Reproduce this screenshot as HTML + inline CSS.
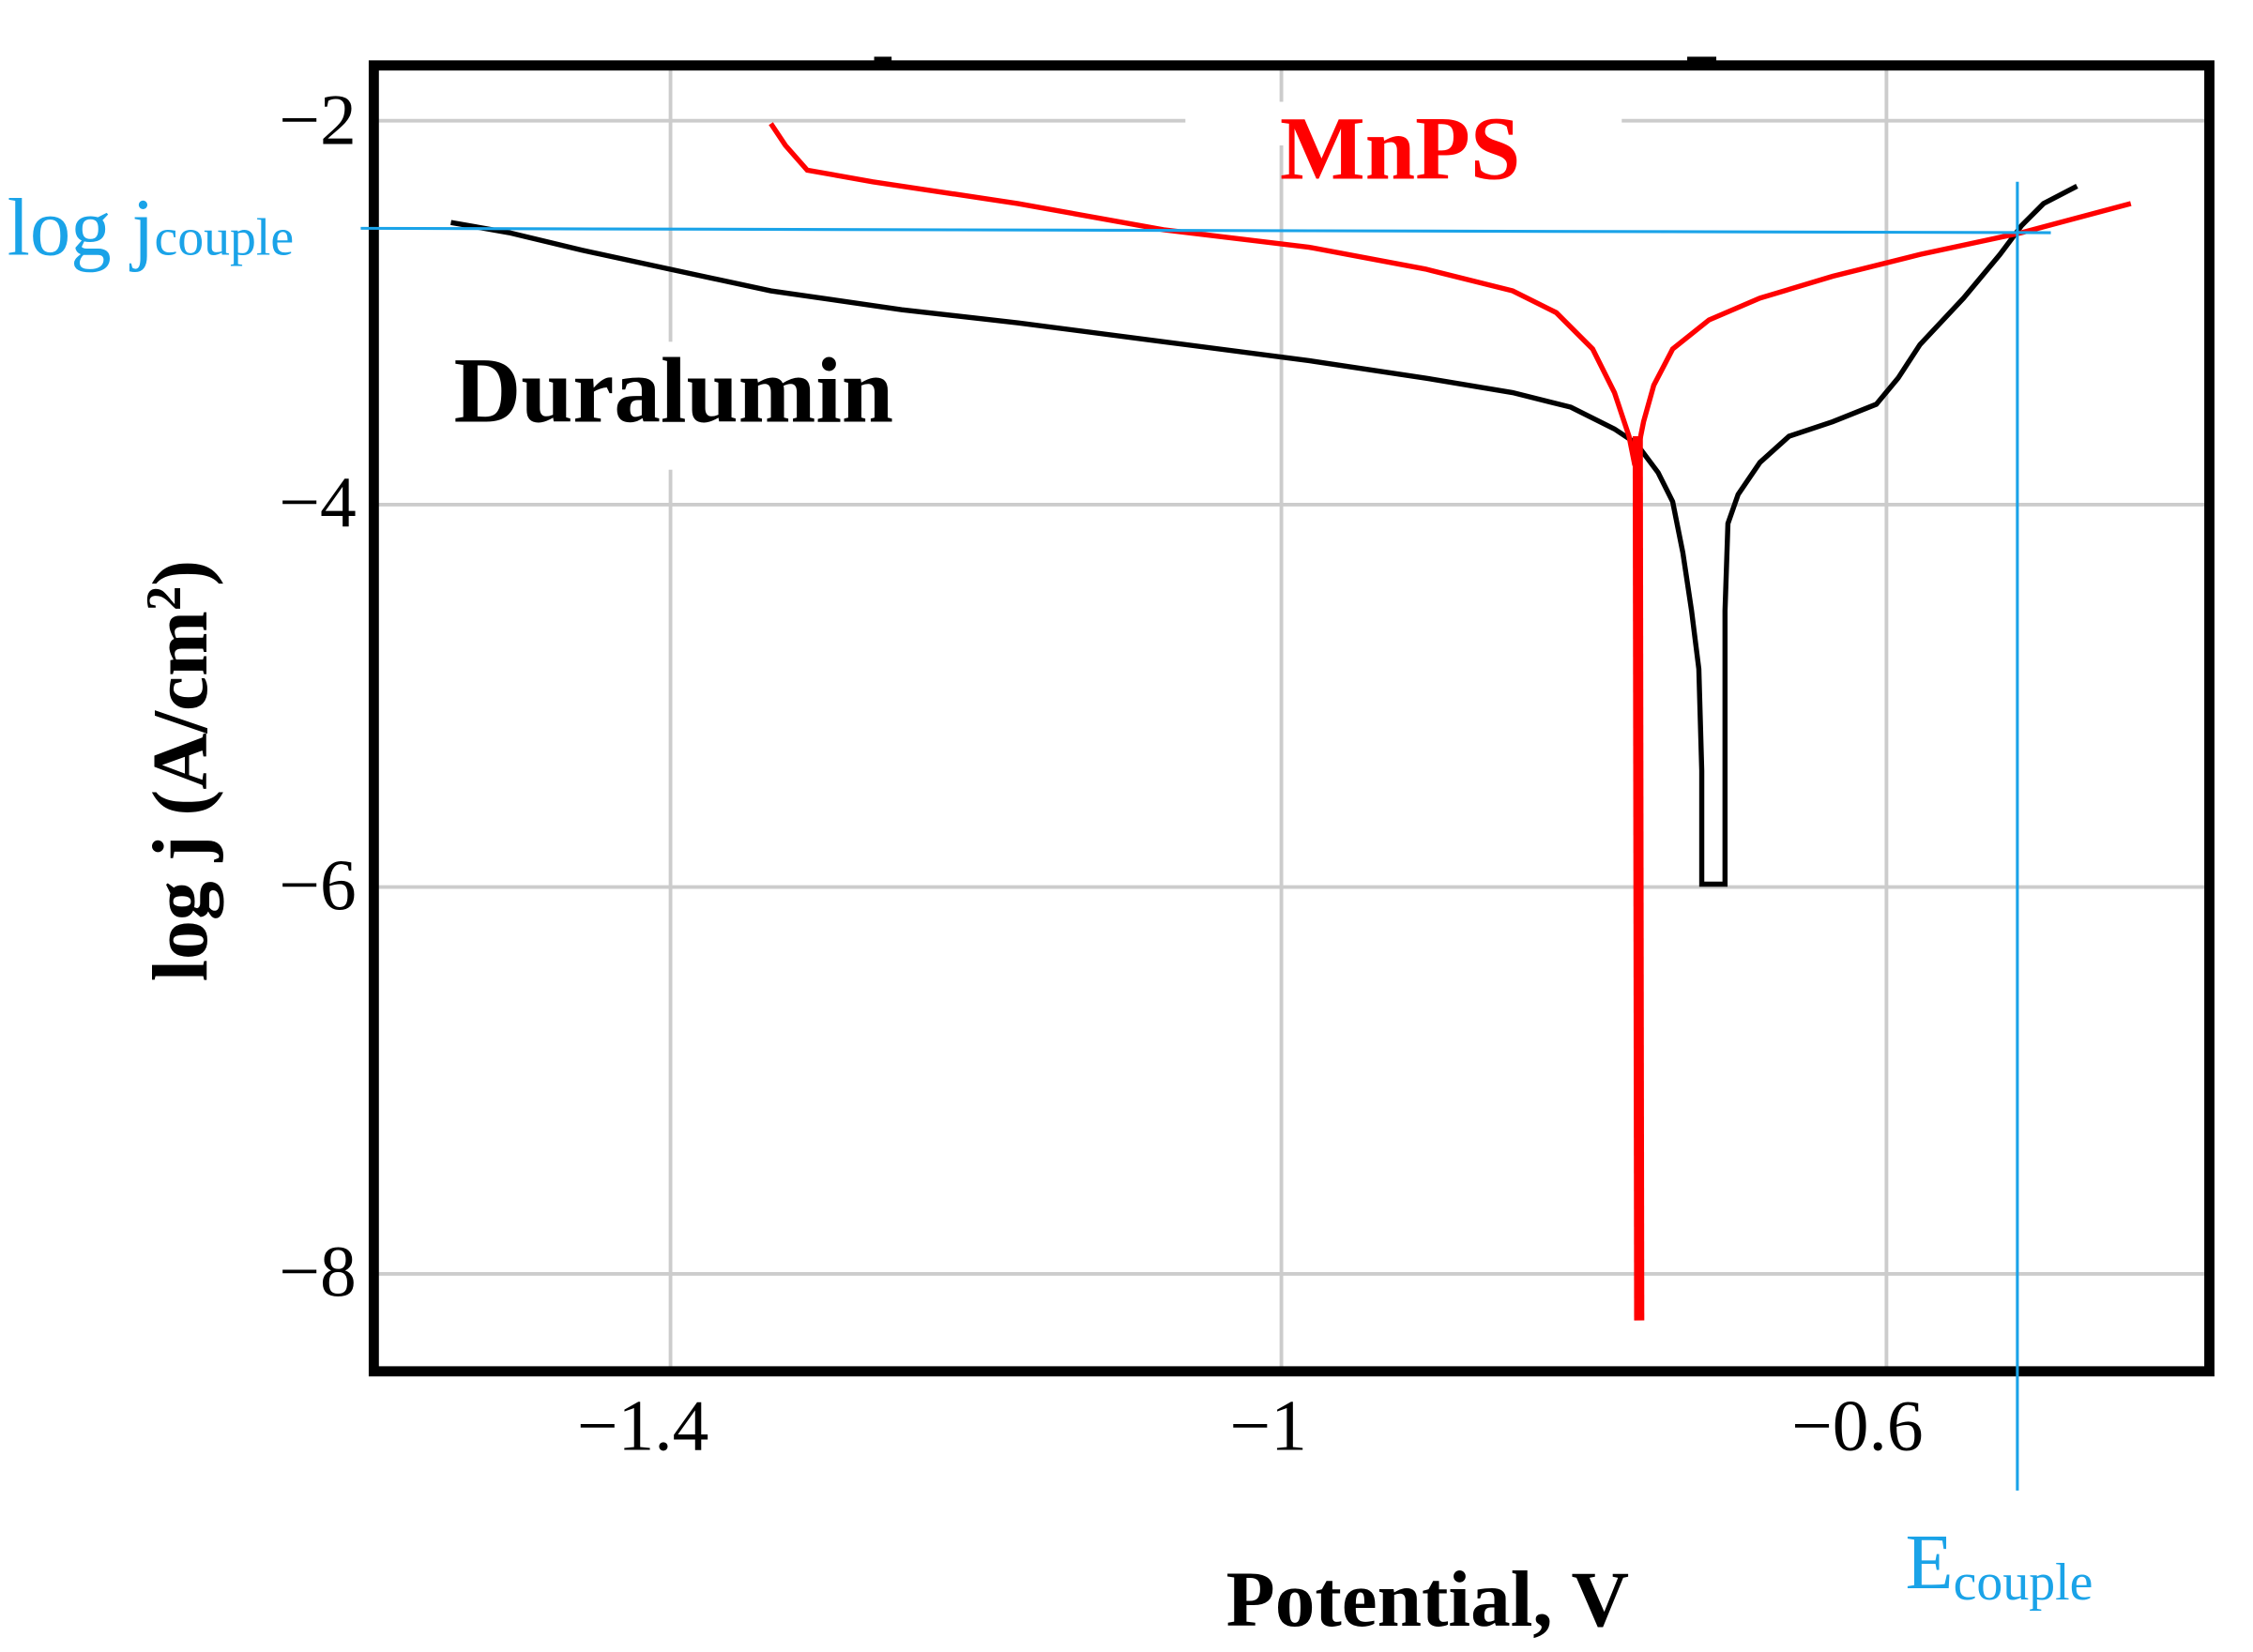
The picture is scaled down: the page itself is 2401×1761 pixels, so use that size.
<!DOCTYPE html>
<html><head><meta charset="utf-8"><style>html,body{margin:0;padding:0;background:#fff}svg{display:block}</style></head><body>
<svg width="2401" height="1761" viewBox="0 0 1549 1136" preserveAspectRatio="none" xmlns="http://www.w3.org/2000/svg" font-family="'Liberation Serif',serif">
<rect width="1549" height="1136" fill="#fff"/>
<g stroke="#cccccc" stroke-width="2.5">
<line x1="257" y1="83" x2="1519" y2="83"/>
<line x1="257" y1="347" x2="1519" y2="347"/>
<line x1="257" y1="610" x2="1519" y2="610"/>
<line x1="257" y1="876" x2="1519" y2="876"/>
<line x1="461" y1="45" x2="461" y2="943"/>
<line x1="881" y1="45" x2="881" y2="943"/>
<line x1="1297" y1="45" x2="1297" y2="943"/>
</g>
<rect x="815" y="70" width="300" height="30" fill="#fff"/>
<rect x="440" y="235" width="40" height="88" fill="#fff"/>
<rect x="257" y="45" width="1262" height="898" fill="none" stroke="#000" stroke-width="7"/>
<rect x="601" y="39" width="12" height="6" fill="#000"/>
<rect x="1160" y="39" width="20" height="6" fill="#000"/>
<polyline fill="none" stroke="#000" stroke-width="3.5" points="310,153 350,160 400,172 460,185 530,200 620,213 700,222 800,235 900,248 980,260 1040,270 1080,280 1110,295 1125,305 1140,325 1150,345 1157,380 1163,420 1168,460 1170,530 1170,608 1186,608 1186,420 1188,360 1195,340 1210,318 1230,300 1260,290 1290,278 1305,260 1320,237 1350,205 1375,175 1390,155 1405,140 1428,128"/>
<polyline fill="none" stroke="#ff0000" stroke-width="3.5" points="530,85 540,100 555,117 600,125 700,140 800,158 900,170 980,185 1040,200 1070,215 1095,240 1110,270 1120,300 1124,320"/>
<polyline fill="none" stroke="#ff0000" stroke-width="3.5" points="1126,310 1130,290 1137,265 1150,240 1175,220 1210,205 1260,190 1320,175 1390,160 1465,140"/>
<line x1="1126" y1="300" x2="1127" y2="908" stroke="#ff0000" stroke-width="7"/>
<g stroke="#1aa3e8" stroke-width="2">
<line x1="248" y1="157" x2="1410" y2="160"/>
<line x1="1387" y1="125" x2="1387" y2="1025"/>
</g>
<g font-size="50" fill="#000">
<text x="245" y="99" text-anchor="end">−2</text>
<text x="245" y="362" text-anchor="end">−4</text>
<text x="245" y="625" text-anchor="end">−6</text>
<text x="245" y="891" text-anchor="end">−8</text>
<text x="442" y="997" text-anchor="middle">−1.4</text>
<text x="872" y="997" text-anchor="middle">−1</text>
<text x="1277" y="997" text-anchor="middle">−0.6</text>
</g>
<text x="880" y="123" font-size="62" font-weight="bold" fill="#ff0000">MnPS</text>
<text x="312" y="290" font-size="64" font-weight="bold" fill="#000">Duralumin</text>
<text x="843" y="1118" font-size="55" font-weight="bold" fill="#000">Potential, V</text>
<text transform="translate(142,530) rotate(-90)" font-size="54" font-weight="bold" text-anchor="middle" fill="#000">log j (A/cm<tspan dy="-18" font-size="34">2</tspan><tspan dy="18">)</tspan></text>
<text x="5" y="175" font-size="56" fill="#1aa3e8">log j<tspan font-size="36">couple</tspan></text>
<text x="1310" y="1092" font-size="54" fill="#1aa3e8">E<tspan font-size="36" dy="8">couple</tspan></text>
</svg>
</body></html>
